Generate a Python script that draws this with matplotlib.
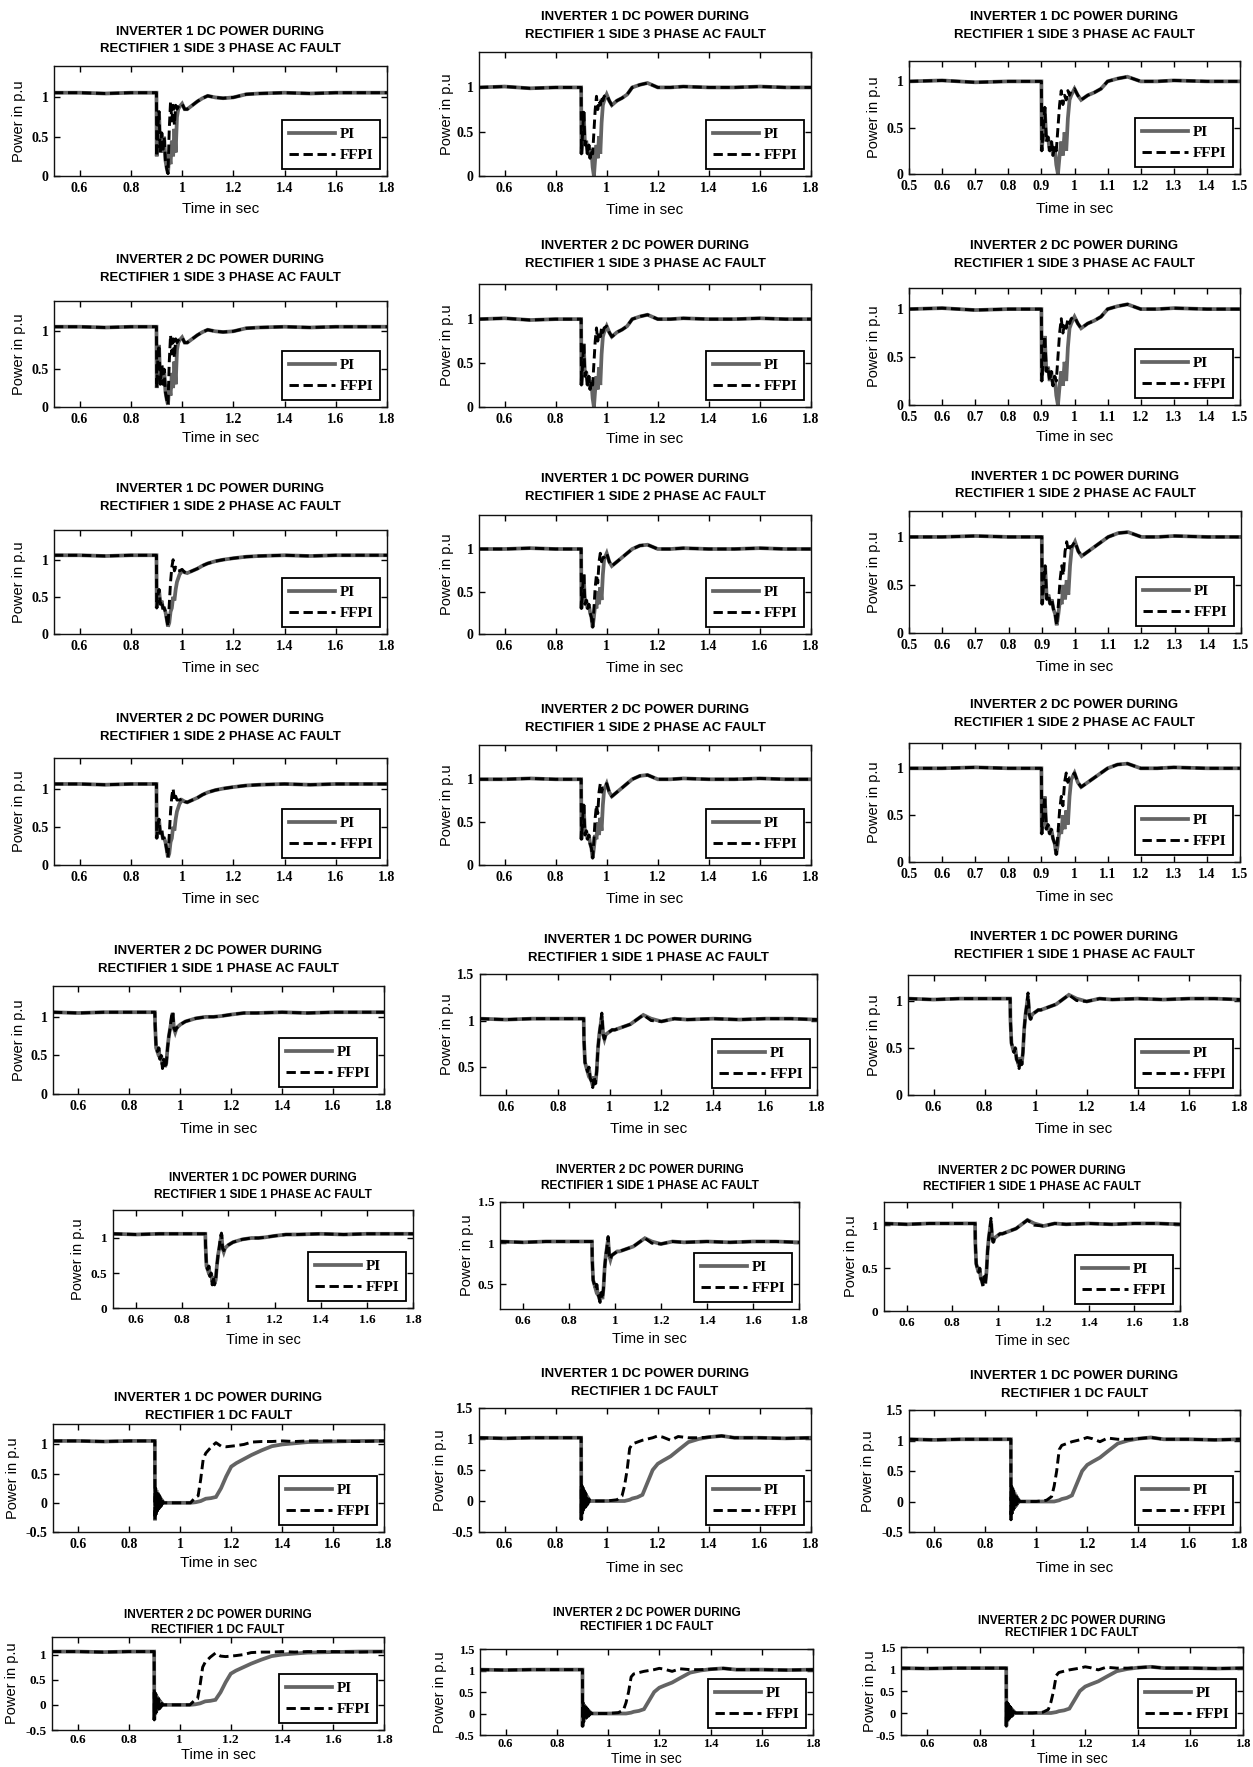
import matplotlib
matplotlib.use('Agg')
import matplotlib.pyplot as plt
from matplotlib import font_manager as fm
from matplotlib.ticker import FixedLocator, FuncFormatter

# ---------------- DATA ----------------
# common time base for the AC-fault records (s)
t_ac = [0.5, 0.6, 0.7, 0.8, 0.9, 0.901, 0.905, 0.91, 0.915, 0.92, 0.925, 0.93, 0.935, 0.94,
        0.945, 0.95, 0.955, 0.96, 0.965, 0.97, 0.975, 0.98, 0.985, 0.99, 1.0, 1.01, 1.02,
        1.04, 1.06, 1.08, 1.1, 1.13, 1.16, 1.2, 1.25, 1.3, 1.4, 1.5, 1.6, 1.7, 1.8]

# 3 phase AC fault, left column (level ~1.06)
pi_3a = [1.06, 1.06, 1.05, 1.06, 1.06, 0.25, 0.6, 0.82, 0.3, 0.55, 0.3, 0.5, 0.2, 0.1,
         0.03, 0.3, 0.15, 0.45, 0.25, 0.6, 0.3, 0.75, 0.85, 0.88, 0.92, 0.85, 0.85,
         0.9, 0.95, 0.99, 1.02, 1.0, 0.99, 1.0, 1.04, 1.05, 1.06, 1.05, 1.06, 1.06, 1.06]
ffpi_3a = [1.06, 1.06, 1.05, 1.06, 1.06, 0.25, 0.6, 0.82, 0.3, 0.55, 0.3, 0.5, 0.2, 0.1,
           0.03, 0.6, 0.95, 0.7, 0.9, 0.65, 0.9, 0.85, 0.88, 0.9, 0.92, 0.85, 0.85,
           0.9, 0.95, 0.99, 1.02, 1.0, 0.99, 1.0, 1.04, 1.05, 1.06, 1.05, 1.06, 1.06, 1.06]
# 3 phase AC fault, middle / right columns (level ~1.0)
pi_3b = [1.0, 1.01, 0.99, 1.0, 1.0, 0.25, 0.45, 0.72, 0.35, 0.4, 0.25, 0.35, 0.2, 0.3,
         0.1, 0.0, 0.2, 0.35, 0.2, 0.45, 0.25, 0.6, 0.8, 0.85, 0.92, 0.85, 0.8,
         0.85, 0.88, 0.92, 1.0, 1.03, 1.05, 1.0, 1.0, 1.01, 1.0, 1.0, 1.01, 1.0, 1.0]
ffpi_3b = [1.0, 1.01, 0.99, 1.0, 1.0, 0.25, 0.45, 0.72, 0.35, 0.4, 0.25, 0.35, 0.2, 0.3,
           0.25, 0.5, 0.75, 0.9, 0.75, 0.85, 0.8, 0.9, 0.85, 0.9, 0.92, 0.85, 0.8,
           0.85, 0.88, 0.92, 1.0, 1.03, 1.05, 1.0, 1.0, 1.01, 1.0, 1.0, 1.01, 1.0, 1.0]

# 2 phase AC fault
pi_2a = [1.06, 1.06, 1.05, 1.06, 1.06, 0.35, 0.5, 0.6, 0.4, 0.45, 0.35, 0.35, 0.3, 0.2,
         0.1, 0.15, 0.3, 0.35, 0.5, 0.45, 0.6, 0.7, 0.75, 0.8, 0.85, 0.83, 0.82,
         0.85, 0.88, 0.92, 0.95, 0.98, 1.0, 1.02, 1.04, 1.05, 1.06, 1.05, 1.06, 1.06, 1.06]
ffpi_2a = [1.06, 1.06, 1.05, 1.06, 1.06, 0.35, 0.5, 0.6, 0.4, 0.45, 0.35, 0.35, 0.3, 0.2,
           0.1, 0.4, 0.7, 0.9, 1.0, 0.85, 0.9, 0.85, 0.85, 0.85, 0.87, 0.83, 0.82,
           0.85, 0.88, 0.92, 0.95, 0.98, 1.0, 1.02, 1.04, 1.05, 1.06, 1.05, 1.06, 1.06, 1.06]
pi_2b = [1.0, 1.0, 1.01, 1.0, 1.0, 0.3, 0.5, 0.7, 0.35, 0.4, 0.3, 0.35, 0.25, 0.2,
         0.08, 0.2, 0.35, 0.3, 0.5, 0.35, 0.55, 0.4, 0.7, 0.88, 0.95, 0.85, 0.8,
         0.85, 0.9, 0.95, 1.0, 1.04, 1.05, 1.0, 1.0, 1.01, 1.0, 1.0, 1.01, 1.0, 1.0]
ffpi_2b = [1.0, 1.0, 1.01, 1.0, 1.0, 0.3, 0.5, 0.7, 0.35, 0.4, 0.3, 0.35, 0.25, 0.2,
           0.08, 0.3, 0.55, 0.7, 0.6, 0.85, 0.95, 0.85, 0.9, 0.9, 0.95, 0.85, 0.8,
           0.85, 0.9, 0.95, 1.0, 1.04, 1.05, 1.0, 1.0, 1.01, 1.0, 1.0, 1.01, 1.0, 1.0]

# 1 phase AC fault
pi_1a = [1.06, 1.05, 1.06, 1.06, 1.06, 0.9, 0.6, 0.55, 0.6, 0.45, 0.5, 0.38, 0.45, 0.35,
         0.4, 0.6, 0.75, 0.85, 0.95, 1.05, 0.85, 0.8, 0.85, 0.87, 0.9, 0.92, 0.94,
         0.96, 0.98, 0.99, 1.0, 1.0, 1.01, 1.03, 1.05, 1.05, 1.06, 1.05, 1.06, 1.06, 1.06]
ffpi_1a = [1.06, 1.05, 1.06, 1.06, 1.06, 0.9, 0.6, 0.55, 0.6, 0.45, 0.5, 0.33, 0.45, 0.33,
           0.4, 0.6, 0.75, 0.85, 1.0, 1.07, 0.85, 0.82, 0.85, 0.87, 0.9, 0.92, 0.94,
           0.96, 0.98, 0.99, 1.0, 1.0, 1.01, 1.03, 1.05, 1.05, 1.06, 1.05, 1.06, 1.06, 1.06]
pi_1b = [1.02, 1.01, 1.02, 1.02, 1.02, 0.8, 0.55, 0.5, 0.45, 0.5, 0.38, 0.35, 0.3, 0.4,
         0.32, 0.45, 0.7, 0.85, 0.95, 1.05, 0.85, 0.8, 0.85, 0.86, 0.88, 0.9, 0.9,
         0.92, 0.94, 0.96, 1.0, 1.06, 1.02, 0.99, 1.02, 1.01, 1.02, 1.01, 1.02, 1.02, 1.01]
ffpi_1b = [1.02, 1.01, 1.02, 1.02, 1.02, 0.8, 0.55, 0.5, 0.45, 0.5, 0.38, 0.35, 0.28, 0.4,
           0.32, 0.45, 0.7, 0.85, 0.95, 1.08, 0.85, 0.8, 0.85, 0.86, 0.88, 0.9, 0.9,
           0.92, 0.94, 0.96, 1.0, 1.06, 1.0, 0.99, 1.02, 1.01, 1.02, 1.01, 1.02, 1.02, 1.01]

# DC fault time base (s)
t_dc = [0.5, 0.6, 0.7, 0.8, 0.9, 0.9005, 0.902, 0.904, 0.906, 0.908, 0.91, 0.912, 0.914,
        0.916, 0.918, 0.92, 0.922, 0.924, 0.926, 0.928, 0.93, 0.935, 0.95, 1.0, 1.04,
        1.06, 1.07, 1.08, 1.09, 1.1, 1.12, 1.14, 1.16, 1.18, 1.2, 1.22, 1.25, 1.28, 1.32,
        1.36, 1.4, 1.45, 1.5, 1.6, 1.7, 1.8]
pi_dca = [1.06, 1.06, 1.05, 1.06, 1.06, -0.3, 0.25, -0.2, 0.22, -0.15, 0.18, -0.12, 0.15,
          -0.1, 0.12, -0.08, 0.08, -0.06, 0.05, -0.03, 0.03, 0.0, 0.0, 0.0, 0.0,
          0.01, 0.02, 0.03, 0.05, 0.07, 0.08, 0.1, 0.25, 0.45, 0.62, 0.68, 0.75, 0.82, 0.9,
          0.97, 1.0, 1.02, 1.04, 1.05, 1.06, 1.06]
ffpi_dca = [1.06, 1.06, 1.05, 1.06, 1.06, -0.3, 0.25, -0.2, 0.22, -0.15, 0.18, -0.12, 0.15,
            -0.1, 0.12, -0.08, 0.08, -0.06, 0.05, -0.03, 0.03, 0.0, 0.0, 0.0, 0.0,
            0.1, 0.12, 0.4, 0.75, 0.85, 0.95, 1.03, 0.97, 0.96, 0.97, 0.98, 1.0, 1.04, 1.05,
            1.05, 1.06, 1.05, 1.06, 1.06, 1.05, 1.06]
pi_dcb = [1.02, 1.01, 1.02, 1.02, 1.02, -0.3, 0.25, -0.2, 0.22, -0.15, 0.18, -0.12, 0.15,
          -0.1, 0.12, -0.08, 0.08, -0.06, 0.05, -0.03, 0.03, 0.0, 0.0, 0.0, 0.0,
          0.0, 0.0, 0.01, 0.02, 0.04, 0.06, 0.1, 0.3, 0.5, 0.6, 0.65, 0.72, 0.82, 0.95,
          1.0, 1.03, 1.05, 1.02, 1.02, 1.01, 1.02]
ffpi_dcb = [1.02, 1.01, 1.02, 1.02, 1.02, -0.3, 0.25, -0.2, 0.22, -0.15, 0.18, -0.12, 0.15,
            -0.1, 0.12, -0.08, 0.08, -0.06, 0.05, -0.03, 0.03, 0.0, 0.0, 0.0, 0.02,
            0.08, 0.25, 0.5, 0.85, 0.92, 0.95, 0.98, 1.0, 1.02, 1.05, 1.03, 0.98, 1.04, 1.02,
            1.02, 1.03, 1.05, 1.02, 1.02, 1.01, 1.02]

series_names = ['PI', 'FFPI']
title_inv = ['INVERTER 1 DC POWER DURING', 'INVERTER 2 DC POWER DURING']
title_fault = ['RECTIFIER 1 SIDE 3 PHASE AC FAULT', 'RECTIFIER 1 SIDE 2 PHASE AC FAULT',
               'RECTIFIER 1 SIDE 1 PHASE AC FAULT', 'RECTIFIER 1 DC FAULT']
xticks_wide = [0.6, 0.8, 1.0, 1.2, 1.4, 1.6, 1.8]
xticks_fine = [0.5, 0.6, 0.7, 0.8, 0.9, 1.0, 1.1, 1.2, 1.3, 1.4, 1.5]
yticks_pos = [0, 0.5, 1]
yticks_high = [0.5, 1, 1.5]
yticks_neg = [-0.5, 0, 0.5, 1]
yticks_negfull = [-0.5, 0, 0.5, 1, 1.5]
xlabel_text = 'Time in sec'
ylabel_text = 'Power in p.u'

SERIES = {
    '3a': (t_ac, pi_3a, ffpi_3a), '3b': (t_ac, pi_3b, ffpi_3b),
    '2a': (t_ac, pi_2a, ffpi_2a), '2b': (t_ac, pi_2b, ffpi_2b),
    '1a': (t_ac, pi_1a, ffpi_1a), '1b': (t_ac, pi_1b, ffpi_1b),
    'dca': (t_dc, pi_dca, ffpi_dca), 'dcb': (t_dc, pi_dcb, ffpi_dcb),
}

# ---------------- LAYOUT (pixel boxes: left, top, right, bottom) ----------------
W, H = 1253, 1767
W_RANGE = ((0.5, 1.8), xticks_wide)
F_RANGE = ((0.5, 1.5), xticks_fine)
Y0 = ((0, 1.4), yticks_pos)
Y0s = ((0, 1.22), yticks_pos)
Y0m = ((0, 1.27), yticks_pos)
YH = ((0.2, 1.5), yticks_high)
YN = ((-0.5, 1.35), yticks_neg)
YNF = ((-0.5, 1.5), yticks_negfull)

# (key, inverter idx, fault idx, box, title y1, title y2, xlabel y, ylabel x, xr, yr,
#  title size, tick size, tick pad, xlabel size)
PANELS = [
    ('3a', 0, 0, (54, 66, 387, 176), 32, 49, 209, 19, W_RANGE, Y0, 11, 10, 4, 11),
    ('3b', 0, 0, (479, 52, 811, 176), 17, 35, 210, 447, W_RANGE, Y0, 11, 10, 4, 11),
    ('3b', 0, 0, (909, 61, 1240, 174), 17, 35, 209, 874, F_RANGE, Y0s, 11, 10, 4, 11),
    ('3a', 1, 0, (54, 301, 387, 407), 260, 278, 438, 19, W_RANGE, Y0, 11, 10, 4, 11),
    ('3b', 1, 0, (479, 284, 811, 407), 246, 264, 439, 447, W_RANGE, Y0, 11, 10, 4, 11),
    ('3b', 1, 0, (909, 288, 1240, 405), 246, 264, 437, 874, F_RANGE, Y0s, 11, 10, 4, 11),
    ('2a', 0, 1, (54, 530, 387, 634), 489, 507, 668, 19, W_RANGE, Y0, 11, 10, 4, 11),
    ('2b', 0, 1, (479, 515, 811, 634), 479, 497, 668, 447, W_RANGE, Y0, 11, 10, 4, 11),
    ('2b', 0, 1, (909, 511, 1241, 633), 477, 494, 667, 874, F_RANGE, Y0m, 11, 10, 4, 11),
    ('2a', 1, 1, (54, 758, 387, 865), 719, 737, 899, 19, W_RANGE, Y0, 11, 10, 4, 11),
    ('2b', 1, 1, (479, 745, 811, 865), 710, 728, 899, 447, W_RANGE, Y0, 11, 10, 4, 11),
    ('2b', 1, 1, (909, 743, 1240, 862), 705, 723, 897, 874, F_RANGE, Y0m, 11, 10, 4, 11),
    ('1a', 1, 2, (53, 986, 384, 1094), 951, 969, 1129, 19, W_RANGE, Y0, 11, 10, 4, 11),
    ('1b', 0, 2, (480, 974, 817, 1095), 940, 958, 1129, 447, W_RANGE, YH, 11, 10, 4, 11),
    ('1b', 0, 2, (908, 975, 1240, 1095), 937, 955, 1129, 874, W_RANGE, Y0m, 11, 10, 4, 11),
    ('1a', 0, 2, (113, 1210, 413, 1308), 1178, 1195, 1340, 78, W_RANGE, Y0, 10, 9.5, 4, 10.5),
    ('1b', 1, 2, (500, 1202, 799, 1309), 1170, 1186, 1339, 467, W_RANGE, YH, 10, 9.5, 4, 10.5),
    ('1b', 1, 2, (884, 1202, 1180, 1311), 1171, 1187, 1341, 851, W_RANGE, Y0m, 10, 9.5, 4, 10.5),
    ('dca', 0, 3, (53, 1424, 384, 1532), 1398, 1416, 1563, 13, W_RANGE, YN, 11, 10, 4, 11),
    ('dcb', 0, 3, (479, 1408, 811, 1532), 1374, 1392, 1568, 440, W_RANGE, YNF, 11, 10, 4, 11),
    ('dcb', 0, 3, (909, 1410, 1240, 1532), 1376, 1394, 1568, 868, W_RANGE, YNF, 11, 10, 4, 11),
    ('dca', 1, 3, (52, 1637, 384, 1730), 1615, 1630, 1755, 12, W_RANGE, YN, 10, 9.5, 3, 10.5),
    ('dcb', 1, 3, (480, 1649, 813, 1735), 1613, 1627, 1759, 440, W_RANGE, YNF, 10, 9, 2, 10),
    ('dcb', 1, 3, (901, 1647, 1243, 1735), 1621, 1633, 1759, 870, W_RANGE, YNF, 10, 9, 2, 10),
]

# ---------------- FONTS ----------------
names = {f.name for f in fm.fontManager.ttflist}
NARROW = 'Liberation Sans Narrow' in names
TITLE_FAM = ['Liberation Sans Narrow', 'DejaVu Sans'] if NARROW else ['Liberation Sans', 'DejaVu Sans']
TITLE_SCALE = 1.0 if NARROW else 0.86
SANS = ['Liberation Sans', 'DejaVu Sans']
SERIF = ['Liberation Serif', 'DejaVu Serif']

fig = plt.figure(figsize=(W / 100, H / 100), dpi=100)
fig.patch.set_facecolor('white')

fmt = FuncFormatter(lambda v, p: '%g' % round(v, 2))

for (key, inv, flt, box, ty1, ty2, xly, ylx, xr, yr,
     tsize, ksize, kpad, xlsize) in PANELS:
    l, t, r, b = box
    ax = fig.add_axes([l / W, 1 - b / H, (r - l) / W, (b - t) / H])
    tt, pi, ffpi = SERIES[key]
    ax.plot(tt, pi, color='#646464', lw=2.7, label=series_names[0], solid_joinstyle='miter')
    ax.plot(tt, ffpi, color='black', lw=2.1, ls=(0, (3.2, 1.6)), label=series_names[1])
    ax.set_xlim(*xr[0])
    ax.set_ylim(*yr[0])
    ax.xaxis.set_major_locator(FixedLocator(xr[1]))
    ax.yaxis.set_major_locator(FixedLocator(yr[1]))
    ax.xaxis.set_major_formatter(fmt)
    ax.yaxis.set_major_formatter(fmt)
    ax.tick_params(direction='in', length=4, width=1, top=True, right=True, pad=4)
    ax.tick_params(axis='x', pad=kpad)
    for lab in ax.get_xticklabels() + ax.get_yticklabels():
        lab.set_fontfamily(SERIF)
        lab.set_fontweight('bold')
        lab.set_fontsize(ksize)
    for sp in ax.spines.values():
        sp.set_linewidth(1.0)
        sp.set_color('#111111')
    ax.set_xlabel(xlabel_text, fontfamily=SANS, fontsize=xlsize, va='center')
    ax.xaxis.set_label_coords(0.5, (b - xly) / (b - t))
    ax.set_ylabel(ylabel_text, fontfamily=SANS, fontsize=10.5, va='center')
    ax.yaxis.set_label_coords((ylx - l) / (r - l), 0.5)
    leg = ax.legend(loc='lower right', prop=dict(family=SERIF, weight='bold', size=11),
                    fancybox=False, edgecolor='black', framealpha=1, handlelength=3.0,
                    borderaxespad=0.45, labelspacing=0.5, handletextpad=0.3, borderpad=0.45)
    leg.get_frame().set_linewidth(1.3)
    cx = (l + r) / 2 / W
    fig.text(cx, 1 - ty1 / H, title_inv[inv], ha='center', va='center', fontfamily=TITLE_FAM,
             fontweight='bold', fontsize=tsize * TITLE_SCALE)
    fig.text(cx, 1 - ty2 / H, title_fault[flt], ha='center', va='center', fontfamily=TITLE_FAM,
             fontweight='bold', fontsize=tsize * TITLE_SCALE)

fig.savefig('out.png', dpi=100, facecolor='white')
